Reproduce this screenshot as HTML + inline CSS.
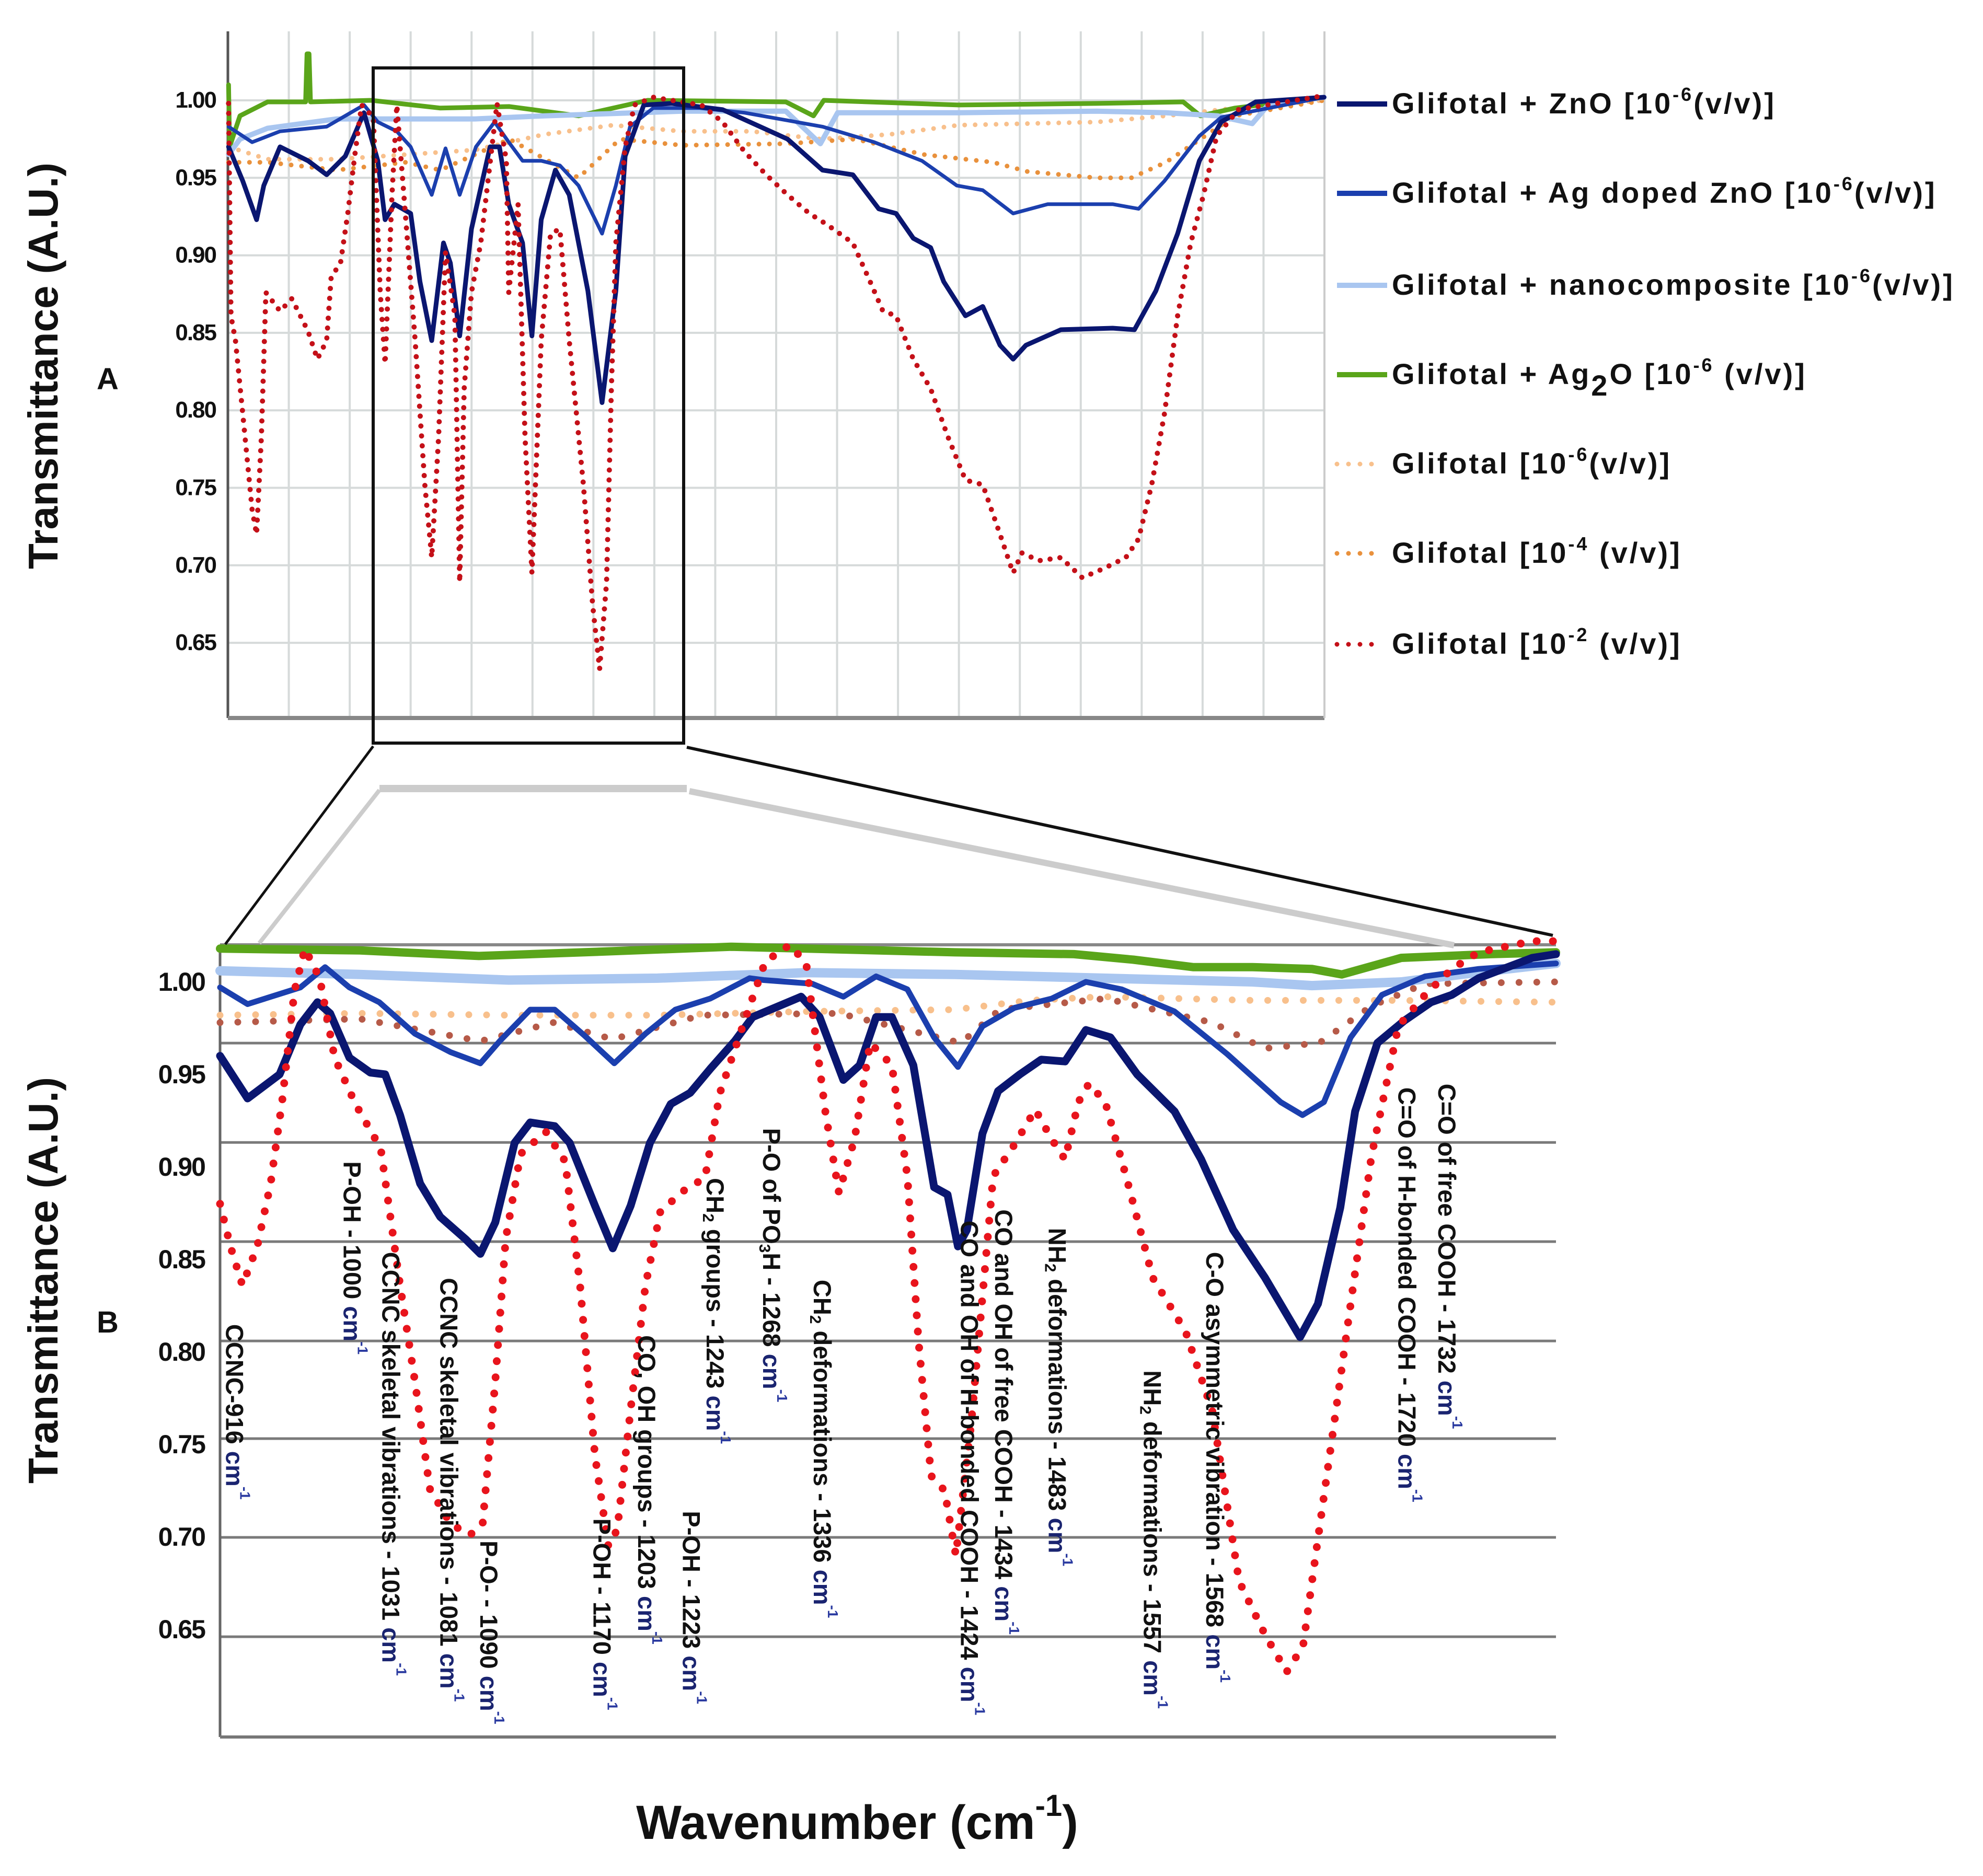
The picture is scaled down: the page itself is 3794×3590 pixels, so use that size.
<!DOCTYPE html>
<html><head><meta charset="utf-8"><style>
html,body{margin:0;padding:0;background:#fff}
svg{display:block}
text{font-family:"Liberation Sans",sans-serif}
</style></head><body>
<svg id="fig" width="3794" height="3590" viewBox="0 0 3794 3590" xmlns="http://www.w3.org/2000/svg">
<g id="panelA"></g>
<g id="panelB"></g>
<g id="conn">
<line x1="726" y1="1512" x2="496" y2="1805" stroke="#ccc" stroke-width="8"/>
<line x1="726" y1="1509" x2="1314" y2="1509" stroke="#ccc" stroke-width="14"/>
<line x1="1319" y1="1514" x2="2782" y2="1809" stroke="#ccc" stroke-width="12"/>
<line x1="714" y1="1428" x2="431" y2="1807" stroke="#111" stroke-width="5"/>
<line x1="1314" y1="1430" x2="2971" y2="1790" stroke="#111" stroke-width="6"/>
</g>
<g id="texts"></g>
</svg>
<script>
// ---------- Panel A data (wavenumber, transmittance) ----------
const topZnO_x=[487,528,568,589,636,717,771,825,879,919,940,967,1014,1041,1075,1109,1129,1156,1190,1244,1271,1298,1338,1365,1392,1433,1473,1527,1568,1608,1635,1689,1770,1917,2105,2206,2294,2369,2419,2469,2519,2557,2620,2670,2720,2758,2795,2896,3046,3109,3171,3234,3297,3360,3460,3658];
const topZnO_y=[0.970,0.948,0.923,0.945,0.970,0.961,0.952,0.964,0.992,0.961,0.923,0.933,0.927,0.883,0.845,0.908,0.895,0.848,0.917,0.970,0.970,0.933,0.908,0.848,0.923,0.955,0.939,0.877,0.805,0.877,0.964,0.997,0.998,0.994,0.975,0.955,0.952,0.930,0.927,0.911,0.905,0.883,0.861,0.867,0.842,0.833,0.842,0.852,0.853,0.852,0.877,0.914,0.961,0.986,0.999,1.002];
const topAg_x=[487,555,636,771,879,919,974,1014,1075,1115,1156,1203,1257,1298,1338,1392,1446,1500,1568,1608,1649,1716,1851,1980,2206,2356,2494,2595,2670,2758,2858,3046,3121,3196,3297,3360,3658];
const topAg_y=[0.983,0.973,0.980,0.983,0.997,0.986,0.980,0.970,0.939,0.969,0.939,0.970,0.986,0.973,0.961,0.961,0.958,0.945,0.914,0.945,0.983,0.995,0.995,0.992,0.983,0.973,0.961,0.945,0.942,0.927,0.933,0.933,0.930,0.948,0.977,0.989,1.002];
const topNano_x=[487,520,600,800,1000,1200,1400,1800,2100,2200,2250,2600,3000,3200,3350,3450,3500,3658];
const topNano_y=[0.965,0.975,0.982,0.988,0.988,0.988,0.990,0.993,0.993,0.972,0.992,0.992,0.993,0.992,0.990,0.985,0.998,1.002];
const topAg2O_x=[487,490,520,600,710,714,717,720,724,900,1100,1300,1500,1700,2100,2180,2210,2600,3000,3250,3300,3400,3658];
const topAg2O_y=[1.010,0.970,0.990,0.999,0.999,1.030,1.030,1.030,0.999,1.000,0.995,0.996,0.990,1.000,0.999,0.990,1.000,0.997,0.998,0.999,0.990,0.995,1.002];
const topG6_x=[487,600,800,1000,1200,1400,1600,1800,2000,2200,2400,2600,2800,3000,3200,3400,3658];
const topG6_y=[0.970,0.962,0.962,0.965,0.968,0.978,0.984,0.980,0.980,0.975,0.978,0.984,0.985,0.986,0.990,0.995,1.000];
const topG4_x=[487,600,800,1000,1100,1200,1300,1500,1620,1800,2100,2300,2500,2700,2800,3000,3100,3200,3300,3400,3658];
const topG4_y=[0.960,0.960,0.955,0.960,0.955,0.965,0.975,0.950,0.975,0.971,0.972,0.975,0.965,0.960,0.954,0.950,0.950,0.960,0.975,0.990,1.000];
const topG2_x=[487,494,507,528,555,568,582,595,636,670,717,744,771,784,811,832,852,872,906,926,940,960,974,1000,1027,1055,1075,1095,1115,1142,1156,1169,1190,1217,1264,1291,1298,1325,1345,1365,1392,1419,1446,1473,1514,1541,1561,1581,1595,1608,1635,1662,1716,1824,1855,1917,1980,2043,2105,2168,2218,2294,2344,2381,2419,2469,2519,2569,2620,2670,2720,2758,2783,2833,2896,2958,3021,3084,3121,3159,3196,3234,3272,3309,3347,3410,3658];
const topG2_y=[0.998,0.861,0.845,0.798,0.736,0.720,0.783,0.876,0.864,0.872,0.851,0.833,0.845,0.886,0.895,0.927,0.964,0.997,0.989,0.876,0.830,0.939,0.997,0.923,0.845,0.752,0.705,0.783,0.902,0.861,0.689,0.814,0.876,0.908,0.998,0.961,0.876,0.933,0.783,0.695,0.845,0.914,0.917,0.845,0.752,0.674,0.633,0.689,0.814,0.908,0.970,0.997,1.002,0.998,0.997,0.986,0.967,0.952,0.939,0.927,0.920,0.908,0.883,0.864,0.861,0.833,0.814,0.783,0.755,0.752,0.720,0.695,0.708,0.703,0.705,0.692,0.698,0.705,0.717,0.752,0.798,0.861,0.908,0.939,0.977,0.994,1.003];
const topTicks=["1.00","0.95","0.90","0.85","0.80","0.75","0.70","0.65"];
const topTickVals=[1.00,0.95,0.90,0.85,0.80,0.75,0.70,0.65];

// ---------- Panel B data ----------
const bZnO_x=[906,924.5,946,960,971.5,980,993,1007,1017,1027,1040.5,1054,1071,1081,1091,1104,1114.5,1131,1141,1158,1170,1182,1195,1209,1222,1235.5,1252,1264,1296.6,1309,1325,1336,1347,1357.6,1372,1386,1395,1402,1408,1418.5,1429,1443.6,1458,1474,1488,1504.5,1522.5,1547.6,1565.5,1587,1608.5,1632,1644,1659,1669,1684,1702,1720,1734,1752,1788,1804];
const bZnO_y=[0.960,0.937,0.950,0.977,0.989,0.983,0.959,0.951,0.950,0.928,0.891,0.873,0.861,0.853,0.870,0.913,0.924,0.922,0.913,0.879,0.856,0.879,0.913,0.934,0.940,0.953,0.968,0.981,0.992,0.981,0.947,0.955,0.981,0.981,0.955,0.889,0.885,0.857,0.866,0.918,0.941,0.950,0.958,0.957,0.974,0.970,0.950,0.930,0.904,0.866,0.840,0.808,0.826,0.878,0.930,0.967,0.979,0.989,0.993,1.002,1.013,1.015];
const bAg_x=[906,924.5,960,976.6,993,1013,1037,1061,1081,1094,1114.5,1131,1151,1171,1192,1212,1235.5,1262,1271.5,1304,1325,1347,1368,1386,1402,1418.5,1440,1465,1488,1512,1547.6,1583,1619,1633.6,1648,1666,1687,1716,1752,1804];
const bAg_y=[0.997,0.988,0.997,1.008,0.997,0.989,0.972,0.962,0.956,0.968,0.985,0.985,0.971,0.956,0.972,0.985,0.991,1.002,1.001,0.999,0.992,1.003,0.996,0.970,0.954,0.976,0.986,0.991,1.000,0.996,0.984,0.961,0.935,0.928,0.935,0.970,0.993,1.003,1.007,1.010];
const bNano_x=[906,1000,1100,1200,1300,1400,1500,1600,1640,1700,1750,1804];
const bNano_y=[1.006,1.004,1.001,1.002,1.005,1.004,1.002,1.000,0.998,1.000,1.005,1.010];
const bAg2O_x=[906,1000,1080,1150,1250,1300,1400,1480,1520,1560,1600,1640,1660,1700,1760,1804];
const bAg2O_y=[1.018,1.017,1.014,1.016,1.019,1.018,1.016,1.015,1.012,1.008,1.008,1.007,1.004,1.013,1.015,1.016];
const bG6_x=[906,1000,1100,1200,1300,1400,1450,1500,1600,1700,1804];
const bG6_y=[0.982,0.983,0.982,0.982,0.984,0.985,0.990,0.992,0.990,0.990,0.989];
const bG4_x=[906,1000,1081,1130,1170,1230,1322,1404,1430,1501,1573,1608,1645,1680,1716,1804];
const bG4_y=[0.978,0.980,0.968,0.978,0.969,0.982,0.983,0.967,0.985,0.991,0.978,0.964,0.967,0.987,0.999,1.000];
const bG2_x=[906,913,921,931,940,948,956,963,973,983,997,1014,1027,1037,1047,1061,1074,1082.5,1091,1098,1108,1125,1138,1148,1158,1167,1173,1182,1192,1202,1219,1232,1242,1259,1272.5,1289,1300,1313,1322,1332.5,1343,1357.6,1368,1375.5,1384,1393,1400.6,1411,1425.7,1440,1454,1465,1474,1483,1490,1501,1515,1533,1555,1573,1591,1608.5,1623,1634,1644,1655,1666,1680,1698,1716,1734,1752,1788,1802];
const bG2_y=[0.880,0.857,0.836,0.857,0.891,0.937,0.995,1.018,1.002,0.959,0.934,0.910,0.836,0.784,0.726,0.707,0.701,0.707,0.784,0.861,0.907,0.919,0.903,0.836,0.744,0.695,0.704,0.769,0.836,0.876,0.888,0.894,0.940,0.980,1.011,1.020,1.010,0.929,0.886,0.915,0.967,0.955,0.895,0.806,0.733,0.725,0.690,0.762,0.895,0.912,0.931,0.915,0.904,0.935,0.945,0.935,0.895,0.840,0.811,0.768,0.676,0.647,0.627,0.641,0.699,0.762,0.826,0.906,0.976,0.993,1.007,1.016,1.022,1.022];
const botTicks=["1.00","0.95","0.90","0.85","0.80","0.75","0.70","0.65"];
const botTickVals=[1.00,0.95,0.90,0.85,0.80,0.75,0.70,0.65];
const botGridVals=[0.9669,0.9132,0.8596,0.8059,0.7531,0.6997,0.6460];
const bandPre=["CCNC-916","P-OH - 1000","CCNC skeletal vibrations - 1031","CCNC skeletal vibrations - 1081","P-O- - 1090","P-OH - 1170","CO, OH groups - 1203","P-OH - 1223","CH","P-O of PO","CH","CO and OH of H-bonded COOH - 1424","CO and OH of free COOH - 1434","NH","NH","C-O asymmetric vibration - 1568","C=O of H-bonded COOH - 1720","C=O of free COOH - 1732"];
const bandSub=["","","","","","","","","2","3","2","","","2","2","","",""];
const bandPost=["","","","","","","",""," groups - 1243","H - 1268"," deformations - 1336","",""," deformations - 1483"," deformations - 1557","","",""];
const bandWn=[916,995,1021,1060,1087,1163,1193,1223,1239,1277,1311,1410,1433,1469,1533,1575,1704,1731];
const bandTopVal=[0.815,0.903,0.854,0.840,0.698,0.710,0.809,0.714,0.894,0.921,0.839,0.871,0.877,0.867,0.790,0.854,0.943,0.945];

const NS="http://www.w3.org/2000/svg";
function mk(tag,attrs,parent){const e=document.createElementNS(NS,tag);for(const k in attrs)e.setAttribute(k,attrs[k]);parent.appendChild(e);return e;}
function span(parent,txt,attrs){const s=document.createElementNS(NS,'tspan');for(const k in (attrs||{}))s.setAttribute(k,attrs[k]);s.textContent=txt;parent.appendChild(s);return s;}

const TA={x0:436,x1:2534,y0:60,y1:1374,wn0:485,wn1:3659,v1:192,pp:2966};
function txA(w){return TA.x0+(w-TA.wn0)/(TA.wn1-TA.wn0)*(TA.x1-TA.x0);}
function tyA(v){return TA.v1+(1-v)*TA.pp;}
const TB={x0:421,x1:2977,y0:1808,y1:3324,wn0:906,wn1:1804,v1:1879,pp:3540};
function txB(w){return TB.x0+(w-TB.wn0)/(TB.wn1-TB.wn0)*(TB.x1-TB.x0);}
function tyB(v){return TB.v1+(1-v)*TB.pp;}

const gA=document.getElementById('panelA'), gB=document.getElementById('panelB'), gT=document.getElementById('texts');

for(let i=0;i<=18;i++){const x=TA.x0+i*(TA.x1-TA.x0)/18;
 const l=mk('line',{x1:x,y1:TA.y0,x2:x,y2:TA.y1,stroke:'#d6dada','stroke-width':4},gA);
 
 }
topTickVals.forEach((v,i)=>{const y=tyA(v);
 const l=mk('line',{x1:TA.x0,y1:y,x2:TA.x1,y2:y,stroke:'#d6dada','stroke-width':4},gA);
 
 
 const t=mk('text',{x:413,y:y+14,'text-anchor':'end','font-size':44,'font-weight':'bold',fill:'#111','letter-spacing':'-2'},gA);
 t.textContent=topTicks[i];
 
 });
mk('line',{x1:TA.x0,y1:TA.y0,x2:TA.x0,y2:TA.y1,stroke:'#555','stroke-width':5},gA);
mk('line',{x1:TA.x0,y1:TA.y1,x2:TA.x1,y2:TA.y1,stroke:'#888','stroke-width':8},gA);
mk('line',{x1:TA.x1,y1:TA.y0,x2:TA.x1,y2:TA.y1,stroke:'#ccc','stroke-width':4},gA);

function series(g,xs,ys,fx,fy,style,name){
 const pts=xs.map((w,i)=>fx(w).toFixed(1)+','+fy(ys[i]).toFixed(1)).join(' ');
 const p=mk('polyline',Object.assign({points:pts,fill:'none','stroke-linejoin':'round','stroke-linecap':'round'},style),g);
 
 
}
series(gA,topG6_x,topG6_y,txA,tyA,{stroke:'#f8c08c','stroke-width':9,'stroke-dasharray':'0 20'},'series-glifotal-1e-6');
series(gA,topG4_x,topG4_y,txA,tyA,{stroke:'#e9913c','stroke-width':9,'stroke-dasharray':'0 20'},'series-glifotal-1e-4');
series(gA,topAg2O_x,topAg2O_y,txA,tyA,{stroke:'#5aa51a','stroke-width':9},'series-ag2o');
series(gA,topNano_x,topNano_y,txA,tyA,{stroke:'#a9c6f0','stroke-width':10},'series-nanocomposite');
series(gA,topAg_x,topAg_y,txA,tyA,{stroke:'#1b3fae','stroke-width':7},'series-ag-doped-zno');
series(gA,topZnO_x,topZnO_y,txA,tyA,{stroke:'#0a1670','stroke-width':9},'series-zno');
series(gA,topG2_x,topG2_y,txA,tyA,{stroke:'#c41018','stroke-width':10,'stroke-dasharray':'0 19'},'series-glifotal-1e-2');
const zb=mk('rect',{x:714,y:130,width:594,height:1292,fill:'none',stroke:'#111','stroke-width':6},gA);



botGridVals.forEach(v=>{const y=tyB(v);
 const l=mk('line',{x1:TB.x0,y1:y,x2:TB.x1,y2:y,stroke:'#7a7a7a','stroke-width':5},gB);
 
 });
botTickVals.forEach((v,i)=>{
 const t=mk('text',{x:392,y:tyB(v)+17,'text-anchor':'end','font-size':50,'font-weight':'bold',fill:'#111','letter-spacing':'-2'},gB);
 t.textContent=botTicks[i];
 
 });
mk('line',{x1:TB.x0,y1:TB.y0,x2:TB.x1,y2:TB.y0,stroke:'#888','stroke-width':6},gB);
mk('line',{x1:TB.x0,y1:TB.y0,x2:TB.x0,y2:TB.y1,stroke:'#666','stroke-width':5},gB);
mk('line',{x1:TB.x0,y1:TB.y1,x2:TB.x1,y2:TB.y1,stroke:'#777','stroke-width':6},gB);

series(gB,bG6_x,bG6_y,txB,tyB,{stroke:'#f8c08c','stroke-width':13,'stroke-dasharray':'0 34'},'series-b-glifotal-1e-6');
series(gB,bG4_x,bG4_y,txB,tyB,{stroke:'#b65a48','stroke-width':13,'stroke-dasharray':'0 34'},'series-b-glifotal-1e-4');
series(gB,bAg2O_x,bAg2O_y,txB,tyB,{stroke:'#5aa51a','stroke-width':16},'series-b-ag2o');
series(gB,bNano_x,bNano_y,txB,tyB,{stroke:'#a9c6f0','stroke-width':18},'series-b-nanocomposite');
series(gB,bAg_x,bAg_y,txB,tyB,{stroke:'#1b3fae','stroke-width':11},'series-b-ag-doped-zno');
series(gB,bZnO_x,bZnO_y,txB,tyB,{stroke:'#0a1670','stroke-width':15},'series-b-zno');
series(gB,bG2_x,bG2_y,txB,tyB,{stroke:'#e8141c','stroke-width':15,'stroke-dasharray':'0 31'},'series-b-glifotal-1e-2');

bandPre.forEach((s,i)=>{
 const x=txB(bandWn[i]), y=tyB(bandTopVal[i]);
 const t=mk('text',{transform:'translate('+x.toFixed(1)+','+y.toFixed(1)+') rotate(90)','font-size':47,'font-weight':'bold',fill:'#111','dominant-baseline':'central'},gB);
 
 
 span(t,s);
 if(bandSub[i]){span(t,bandSub[i],{'font-size':30,dy:14});span(t,bandPost[i]+' ',{dy:-14});}
 else span(t,' ');
 span(t,'cm',{fill:'#1a2470'});
 span(t,'-1',{'font-size':28,dy:-20,fill:'#2a3aa0'});
});

const legPre=["Glifotal + ZnO [10","Glifotal + Ag doped ZnO [10","Glifotal + nanocomposite [10","Glifotal +  Ag","Glifotal  [10","Glifotal  [10","Glifotal  [10"];
const legExp=["-6","-6","-6","-6","-6","-4","-2"];
const legPost=["(v/v)]","(v/v)]","(v/v)]"," (v/v)]","(v/v)]"," (v/v)]"," (v/v)]"];
const legColors=['#0a1670','#1b3fae','#a9c6f0','#5aa51a','#f8c08c','#e9913c','#c41018'];
const legY=[199,370,546,717,888,1059,1233];
legPre.forEach((n,i)=>{
 const g=mk('g',{},gA);
 
 
 const dotted=i>=4;
 mk('line',{x1:2558,y1:legY[i],x2:dotted?2642:2654,y2:legY[i],stroke:legColors[i],'stroke-width':dotted?9:10,'stroke-linecap':dotted?'round':'butt','stroke-dasharray':dotted?'0 22':'none'},g);
 const t=mk('text',{x:2663,y:legY[i]+18,'font-size':56,'font-weight':'bold',fill:'#111','letter-spacing':'4'},g);
 span(t,n);
 if(i===3){span(t,'2',{dy:22});span(t,'O [10',{dy:-22});}
 span(t,legExp[i],{dy:-24,'font-size':36});
 span(t,legPost[i],{dy:24});
});

function addText(attrs,txt,name){const t=mk('text',attrs,gT);t.textContent=txt;return t;}
addText({transform:'translate(110,700) rotate(-90)','text-anchor':'middle','font-size':80,'font-weight':'bold',fill:'#111'},'Transmittance (A.U.)','y-axis-title-a');
addText({transform:'translate(110,2450) rotate(-90)','text-anchor':'middle','font-size':80,'font-weight':'bold',fill:'#111'},'Transmittance (A.U.)','y-axis-title-b');
addText({x:206,y:745,'text-anchor':'middle','font-size':58,'font-weight':'bold',fill:'#111'},'A','panel-label-a');
addText({x:206,y:2550,'text-anchor':'middle','font-size':58,'font-weight':'bold',fill:'#111'},'B','panel-label-b');
const xt=addText({x:1640,y:3519,'text-anchor':'middle','font-size':92,'font-weight':'bold',fill:'#111'},'Wavenumber (cm','x-axis-title');
span(xt,'-1',{dy:-44,'font-size':58});
span(xt,')',{dy:44});
</script>
</body></html>
